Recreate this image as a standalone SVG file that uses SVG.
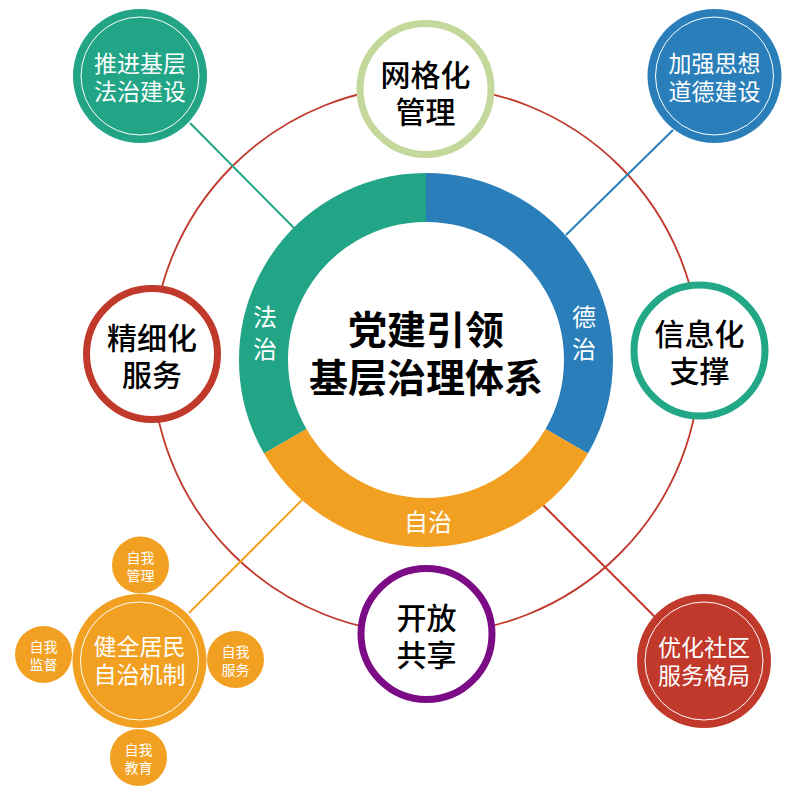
<svg xmlns="http://www.w3.org/2000/svg" width="795" height="795" viewBox="0 0 795 795">
<style>
text{font-family:"Noto Sans CJK SC","Noto Sans CJK JP",sans-serif;text-anchor:middle;dominant-baseline:central}
.big{font-size:30px;fill:#000;font-weight:500}
.corner{font-size:23px;fill:#fff}
.small{font-size:14px;fill:#fff}
.seg{font-size:24px;fill:#fff}
.center{font-size:39px;font-weight:700;fill:#000}
.ring{fill:#fff;stroke-width:7}
.inner{fill:none;stroke:#fff;stroke-width:1}
.conn{stroke-width:2;fill:none}
</style>
<rect width="795" height="795" fill="#fff"/>
<circle cx="426" cy="360" r="274" fill="none" stroke="#C0392B" stroke-width="1.8"/>
<g id="connectors">
<line class="conn" x1="190" y1="123" x2="294" y2="228" stroke="#21A586"/>
<line class="conn" x1="673" y1="130" x2="566" y2="235" stroke="#2A7FBA"/>
<line class="conn" x1="543" y1="505" x2="655" y2="617" stroke="#C0392B"/>
<line class="conn" x1="189" y1="613" x2="302" y2="500" stroke="#F2A021"/>
</g>
<g id="core">
<path d="M426 197.5 A162.5 162.5 0 0 0 285.27 441.25" fill="none" stroke="#21A586" stroke-width="49"/>
<path d="M426 197.5 A162.5 162.5 0 0 1 566.73 441.25" fill="none" stroke="#2A7FBA" stroke-width="49"/>
<path d="M566.73 441.25 A162.5 162.5 0 0 1 285.27 441.25" fill="none" stroke="#F2A021" stroke-width="49"/>
<text class="seg"><tspan x="265" y="315">法</tspan><tspan x="265" dy="32">治</tspan></text>
<text class="seg"><tspan x="584" y="315">德</tspan><tspan x="584" dy="32">治</tspan></text>
<text class="seg" x="428" y="520">自治</text>
<text class="center"><tspan x="426" y="327">党建引领</tspan><tspan x="426" dy="48">基层治理体系</tspan></text>
</g>
<g id="n-wangge">
<circle class="ring" cx="425.5" cy="89" r="65.5" stroke="#C3D89A"/>
<text class="big"><tspan x="425.5" y="73">网格化</tspan><tspan x="425.5" dy="37">管理</tspan></text>
</g>
<g id="n-xinxi">
<circle class="ring" cx="699.5" cy="350.5" r="65.5" stroke="#22A887"/>
<text class="big"><tspan x="699.5" y="332">信息化</tspan><tspan x="699.5" dy="37">支撑</tspan></text>
</g>
<g id="n-jingxi">
<circle class="ring" cx="152" cy="354" r="65.5" stroke="#C0392B"/>
<text class="big"><tspan x="152" y="336">精细化</tspan><tspan x="152" dy="37">服务</tspan></text>
</g>
<g id="n-kaifang">
<circle class="ring" cx="426.5" cy="634" r="65.5" stroke="#7B0C85"/>
<text class="big"><tspan x="426.5" y="616">开放</tspan><tspan x="426.5" dy="37">共享</tspan></text>
</g>
<g id="n-fazhi">
<circle cx="140" cy="76" r="67" fill="#21A586"/>
<circle class="inner" cx="140" cy="76" r="59"/>
<text class="corner"><tspan x="140" y="62">推进基层</tspan><tspan x="140" dy="28">法治建设</tspan></text>
</g>
<g id="n-sixiang">
<circle cx="714.5" cy="76" r="67" fill="#2A7FBA"/>
<circle class="inner" cx="714.5" cy="76" r="59"/>
<text class="corner"><tspan x="714.5" y="62">加强思想</tspan><tspan x="714.5" dy="28">道德建设</tspan></text>
</g>
<g id="n-shequ">
<circle cx="704" cy="661" r="67" fill="#C0392B"/>
<circle class="inner" cx="704" cy="661" r="59"/>
<text class="corner"><tspan x="704" y="646">优化社区</tspan><tspan x="704" dy="28">服务格局</tspan></text>
</g>
<g id="n-s1">
<circle cx="140.5" cy="565" r="28.5" fill="#F2A021"/>
<text class="small"><tspan x="140.5" y="557">自我</tspan><tspan x="140.5" dy="18">管理</tspan></text>
</g>
<g id="n-s2">
<circle cx="43.5" cy="654.5" r="28.5" fill="#F2A021"/>
<text class="small"><tspan x="43.5" y="646">自我</tspan><tspan x="43.5" dy="18">监督</tspan></text>
</g>
<g id="n-s3">
<circle cx="235.5" cy="659.5" r="28.5" fill="#F2A021"/>
<text class="small"><tspan x="235.5" y="651">自我</tspan><tspan x="235.5" dy="18">服务</tspan></text>
</g>
<g id="n-s4">
<circle cx="138.5" cy="757.5" r="28.5" fill="#F2A021"/>
<text class="small"><tspan x="138.5" y="749">自我</tspan><tspan x="138.5" dy="18">教育</tspan></text>
</g>
<g id="n-jumin">
<circle cx="139.5" cy="661" r="67" fill="#F2A021"/>
<circle class="inner" cx="139.5" cy="661" r="59"/>
<text class="corner"><tspan x="139.5" y="645">健全居民</tspan><tspan x="139.5" dy="28">自治机制</tspan></text>
</g>
</svg>
